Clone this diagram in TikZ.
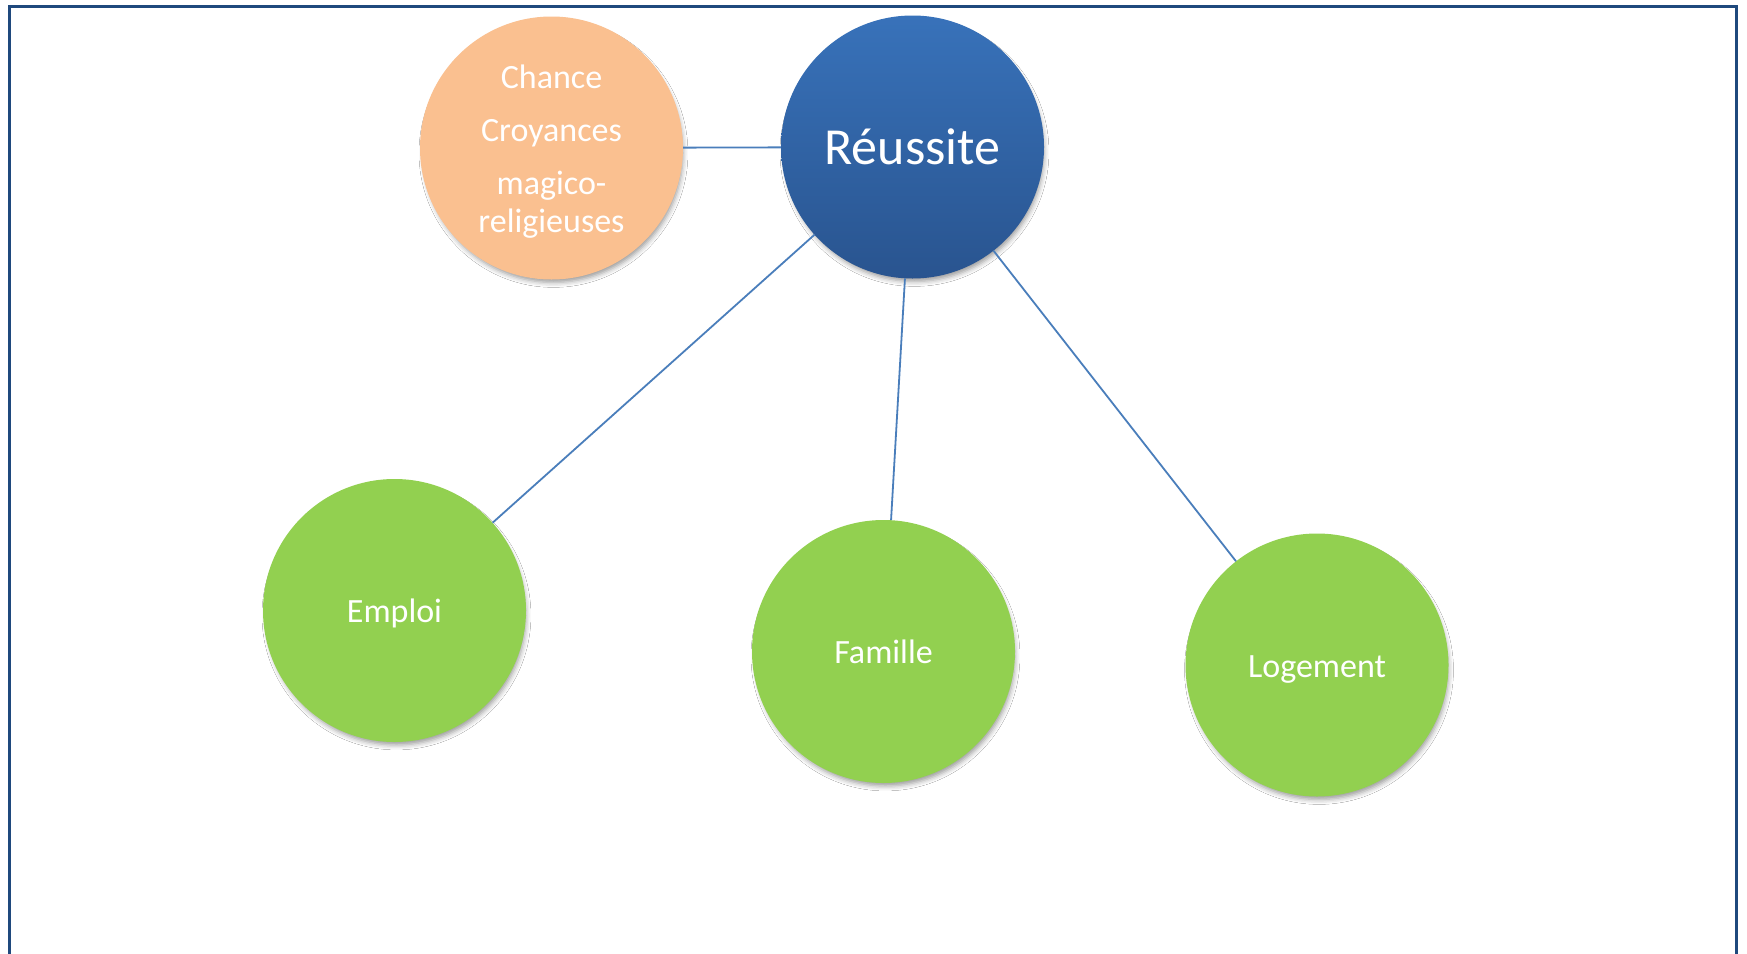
\documentclass[tikz,border=0pt]{standalone}
\usepackage{fontspec}
\setmainfont{Carlito}
\usetikzlibrary{shadows.blur}
\definecolor{frameblue}{HTML}{1F497D}
\definecolor{linkblue}{HTML}{4A7EBB}
\definecolor{topblue}{HTML}{3872BA}
\definecolor{botblue}{HTML}{29548F}
\definecolor{peach}{HTML}{FAC090}
\definecolor{leaf}{HTML}{92D050}
\begin{document}
\begin{tikzpicture}[x=1pt,y=-1pt,
  bubble/.style={circle,minimum size=263pt,inner sep=0pt,text=white,align=center,
    blur shadow={shadow xshift=2pt,shadow yshift=-5pt,shadow scale=0.985,shadow blur radius=5pt,shadow blur extra rounding=0pt,shadow opacity=40}},
  link/.style={draw=linkblue,line width=1.8pt},
  txt/.style={font=\fontsize{34}{38}\selectfont}]
\useasboundingbox (0,0) rectangle (1747,953);
\fill[white] (0,0) rectangle (1747,953);
\draw[frameblue,line width=3pt] (9,960) -- (9,6) -- (1736.5,6) -- (1736.5,960);
\node[bubble,fill=peach,txt] (chance) at (551.5,148)
  {\rule{0pt}{31pt}Chance\\[15pt]Croyances\\[15pt]magico-\\religieuses};
\node[bubble,top color=topblue,bottom color=botblue,font=\fontsize{52}{60}\selectfont] (reussite) at (912.5,147) {Réussite};
\node[bubble,fill=leaf,txt] (emploi) at (394.5,610.5) {\rule{0pt}{29pt}Emploi};
\node[bubble,fill=leaf,txt] (famille) at (883.5,651.5) {Famille};
\node[bubble,fill=leaf,txt] (logement) at (1317,665) {\rule{0pt}{31pt}Logement};
\draw[link] (chance) -- (reussite);
\draw[link] (reussite) -- (emploi);
\draw[link] (reussite) -- (famille);
\draw[link] (reussite) -- (logement);
\end{tikzpicture}
\end{document}
